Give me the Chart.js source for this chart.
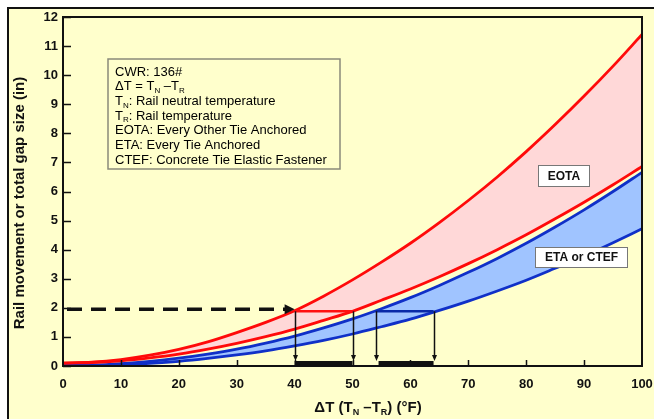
<!DOCTYPE html>
<html>
<head>
<meta charset="utf-8">
<script src="https://cdn.jsdelivr.net/npm/chart.js@4.4.1/dist/chart.umd.min.js"></script>
<style>
  html, body { margin: 0; padding: 0; background: #fff; }
  canvas { display: block; }
</style>
</head>
<body>
<canvas id="gapChart" width="654" height="419"></canvas>
<script>
// Rail movement / gap size vs. temperature drop (CWR 136#)
const deltaT = [0, 5, 10, 15, 20, 25, 30, 35, 40, 45, 50, 55, 60, 65, 70, 75, 80, 85, 90, 95, 100];
const eotaUpper = [0.10, 0.13, 0.22, 0.37, 0.57, 0.83, 1.15, 1.50, 1.90, 2.40, 2.96, 3.57, 4.22, 4.93, 5.69, 6.50, 7.37, 8.30, 9.28, 10.31, 11.40];
const eotaLower = [0.10, 0.12, 0.18, 0.28, 0.41, 0.58, 0.78, 1.01, 1.27, 1.57, 1.88, 2.26, 2.65, 3.07, 3.52, 4.00, 4.51, 5.06, 5.63, 6.23, 6.86];
const etaUpper = [0.02, 0.03, 0.08, 0.16, 0.27, 0.41, 0.58, 0.79, 1.03, 1.31, 1.62, 1.97, 2.35, 2.77, 3.22, 3.70, 4.22, 4.78, 5.37, 6.00, 6.66];
const etaLower = [0.00, 0.01, 0.04, 0.09, 0.16, 0.26, 0.38, 0.52, 0.69, 0.88, 1.10, 1.35, 1.61, 1.91, 2.23, 2.58, 2.95, 3.36, 3.78, 4.24, 4.72];

const gapSize = 1.88;          // allowed gap (in)
const eotaRange = [40, 50];    // ΔT range for EOTA at that gap
const etaRange = [54, 64];     // ΔT range for ETA / CTEF

const infoLines = [
  [['CWR: 136#']],
  [['ΔT = T'], ['N', 1], [' –T'], ['R', 1]],
  [['T'], ['N', 1], [': Rail neutral temperature']],
  [['T'], ['R', 1], [': Rail temperature']],
  [['EOTA: Every Other Tie Anchored']],
  [['ETA: Every Tie Anchored']],
  [['CTEF: Concrete Tie Elastic Fastener']]
];
const xTitle = [['ΔT (T'], ['N', 1], [' –T'], ['R', 1], [') (°F)']];
const yTitle = 'Rail movement or total gap size (in)';

const FONT = '"Liberation Sans", Arial, sans-serif';
const YELLOW = '#FFFFCC';

function pts(ys) {
  return deltaT.map((x, i) => ({ x: x, y: ys[i] }));
}

// text with subscripts
function richWidth(ctx, parts, size, weight) {
  let w = 0;
  parts.forEach(p => {
    ctx.font = `${weight} ${p[1] ? Math.round(size * 0.62) : size}px ${FONT}`;
    w += ctx.measureText(p[0]).width;
  });
  return w;
}
function drawRich(ctx, parts, x, y, size, weight) {
  ctx.textBaseline = 'alphabetic';
  ctx.textAlign = 'left';
  parts.forEach(p => {
    const sub = !!p[1];
    ctx.font = `${weight} ${sub ? Math.round(size * 0.62) : size}px ${FONT}`;
    ctx.fillText(p[0], x, sub ? y + size * 0.22 : y);
    x += ctx.measureText(p[0]).width;
  });
}

function arrowHead(ctx, x, y, dir, len, half) {
  ctx.beginPath();
  if (dir === 'right') {
    ctx.moveTo(x, y); ctx.lineTo(x - len, y - half); ctx.lineTo(x - len, y + half);
  } else {
    ctx.moveTo(x, y); ctx.lineTo(x - half, y - len); ctx.lineTo(x + half, y - len);
  }
  ctx.closePath();
  ctx.fill();
}

function labelBox(ctx, text, x1, y1, x2, y2) {
  ctx.fillStyle = '#FFFFFF';
  ctx.fillRect(x1, y1, x2 - x1, y2 - y1);
  ctx.strokeStyle = '#777';
  ctx.lineWidth = 1;
  ctx.strokeRect(x1 + 0.5, y1 + 0.5, x2 - x1 - 1, y2 - y1 - 1);
  ctx.fillStyle = '#111';
  ctx.font = `bold 12px ${FONT}`;
  ctx.textAlign = 'center';
  ctx.textBaseline = 'middle';
  ctx.fillText(text, (x1 + x2) / 2, (y1 + y2) / 2 + 0.5);
}

const backdrop = {
  id: 'backdrop',
  beforeDraw(chart) {
    const ctx = chart.ctx;
    ctx.save();
    ctx.fillStyle = '#FFFFFF';
    ctx.fillRect(0, 0, chart.width, chart.height);
    ctx.fillStyle = YELLOW;
    ctx.fillRect(7, 7, chart.width - 7, chart.height - 7);
    ctx.fillStyle = '#111';
    ctx.fillRect(7, 7, chart.width - 7, 2);
    ctx.fillRect(7, 7, 2, chart.height - 7);
    ctx.restore();
  }
};

const overlays = {
  id: 'overlays',
  afterDatasetsDraw(chart) {
    const ctx = chart.ctx;
    const xs = chart.scales.x, ys = chart.scales.y;
    const a = chart.chartArea;
    ctx.save();

    // plot frame
    ctx.strokeStyle = '#111';
    ctx.lineWidth = 2;
    ctx.strokeRect(a.left, a.top, a.right - a.left, a.bottom - a.top);

    // inward ticks
    ctx.lineWidth = 1.5;
    ctx.beginPath();
    ys.ticks.forEach(t => {
      const py = Math.round(ys.getPixelForValue(t.value)) + 0.5;
      ctx.moveTo(a.left, py); ctx.lineTo(a.left + 8, py);
    });
    xs.ticks.forEach(t => {
      if (t.value === xs.min || t.value === xs.max) return;
      const px = Math.round(xs.getPixelForValue(t.value)) + 0.5;
      ctx.moveTo(px, a.bottom); ctx.lineTo(px, a.bottom - 6);
    });
    ctx.stroke();

    const gy = ys.getPixelForValue(gapSize);
    const y0 = ys.getPixelForValue(0);

    // dashed arrow from axis to EOTA curve
    ctx.strokeStyle = '#111';
    ctx.lineWidth = 3.5;
    ctx.setLineDash([15, 9]);
    ctx.beginPath();
    ctx.moveTo(a.left + 4, gy - 2);
    ctx.lineTo(xs.getPixelForValue(eotaRange[0]) - 8, gy - 2);
    ctx.stroke();
    ctx.setLineDash([]);
    ctx.fillStyle = '#111';
    arrowHead(ctx, xs.getPixelForValue(eotaRange[0]), gy - 2, 'right', 10, 5);

    // horizontal range lines
    ctx.lineWidth = 2.5;
    ctx.strokeStyle = '#FF1010';
    ctx.beginPath();
    ctx.moveTo(xs.getPixelForValue(eotaRange[0]), gy);
    ctx.lineTo(xs.getPixelForValue(eotaRange[1]), gy);
    ctx.stroke();
    ctx.strokeStyle = '#0A2AA8';
    ctx.beginPath();
    ctx.moveTo(xs.getPixelForValue(etaRange[0]), gy);
    ctx.lineTo(xs.getPixelForValue(etaRange[1]), gy);
    ctx.stroke();

    // vertical drop arrows + thick range bars
    ctx.strokeStyle = '#111';
    ctx.fillStyle = '#111';
    ctx.lineWidth = 1.5;
    [eotaRange[0], eotaRange[1], etaRange[0], etaRange[1]].forEach(v => {
      const px = Math.round(xs.getPixelForValue(v)) + 0.5;
      ctx.beginPath();
      ctx.moveTo(px, gy);
      ctx.lineTo(px, y0 - 9);
      ctx.stroke();
      arrowHead(ctx, px, y0 - 5, 'down', 6, 2.5);
    });
    ctx.fillRect(xs.getPixelForValue(eotaRange[0]), y0 - 5, xs.getPixelForValue(eotaRange[1]) - xs.getPixelForValue(eotaRange[0]), 4.5);
    ctx.fillRect(xs.getPixelForValue(etaRange[0] + 0.5), y0 - 5, xs.getPixelForValue(etaRange[1]) - xs.getPixelForValue(etaRange[0] + 0.5), 4.5);

    // info box
    ctx.fillStyle = YELLOW;
    ctx.fillRect(108, 59, 232, 110);
    ctx.strokeStyle = '#8A8A7A';
    ctx.lineWidth = 1.5;
    ctx.strokeRect(108, 59, 232, 110);
    ctx.fillStyle = '#000';
    infoLines.forEach((line, i) => {
      drawRich(ctx, line, 115, 75.5 + i * 14.7, 13, 'normal');
    });

    // curve labels
    labelBox(ctx, 'EOTA', 538, 165, 590, 187);
    labelBox(ctx, 'ETA or CTEF', 535, 247, 628, 268);

    ctx.restore();
  },
  afterDraw(chart) {
    const ctx = chart.ctx;
    ctx.save();
    ctx.fillStyle = '#111';
    const w = richWidth(ctx, xTitle, 15, 'bold');
    drawRich(ctx, xTitle, 368 - w / 2, 412, 15, 'bold');
    ctx.translate(24, 203);
    ctx.rotate(-Math.PI / 2);
    ctx.font = `bold 15px ${FONT}`;
    ctx.textAlign = 'center';
    ctx.textBaseline = 'alphabetic';
    ctx.fillText(yTitle, 0, 0);
    ctx.restore();
  }
};

const lineStyle = { pointRadius: 0, borderWidth: 2.8, tension: 0.35, cubicInterpolationMode: 'monotone' };

new Chart(document.getElementById('gapChart'), {
  type: 'line',
  data: {
    datasets: [
      Object.assign({ label: 'EOTA upper', data: pts(eotaUpper), borderColor: '#FF0A0A', backgroundColor: '#FFD8D8', fill: '+1' }, lineStyle),
      Object.assign({ label: 'EOTA lower', data: pts(eotaLower), borderColor: '#FF0A0A', fill: false }, lineStyle),
      Object.assign({ label: 'ETA upper', data: pts(etaUpper), borderColor: '#1030C8', backgroundColor: '#A0C4FF', fill: '+1' }, lineStyle),
      Object.assign({ label: 'ETA lower', data: pts(etaLower), borderColor: '#1030C8', fill: false }, lineStyle)
    ]
  },
  options: {
    responsive: false,
    animation: false,
    devicePixelRatio: 1,
    layout: { padding: { top: 17, right: 12, left: 0, bottom: 0 } },
    plugins: {
      legend: { display: false },
      tooltip: { enabled: false },
      filler: { drawTime: 'beforeDatasetsDraw' }
    },
    scales: {
      x: {
        type: 'linear',
        min: 0, max: 100,
        grid: { display: false, drawTicks: false, tickLength: 0 },
        border: { display: false },
        ticks: { stepSize: 10, padding: 11, color: '#111', font: { family: FONT, size: 13, weight: 'bold' } },
        afterFit(scale) { scale.height = 53; scale.paddingLeft = 0; scale.paddingRight = 0; }
      },
      y: {
        min: 0, max: 12,
        grid: { display: false, drawTicks: false, tickLength: 0 },
        border: { display: false },
        ticks: { stepSize: 1, padding: 5, color: '#111', font: { family: FONT, size: 13, weight: 'bold' } },
        afterFit(scale) { scale.width = 63; scale.paddingTop = 0; scale.paddingBottom = 0; }
      }
    }
  },
  plugins: [backdrop, overlays]
});
</script>
</body>
</html>
